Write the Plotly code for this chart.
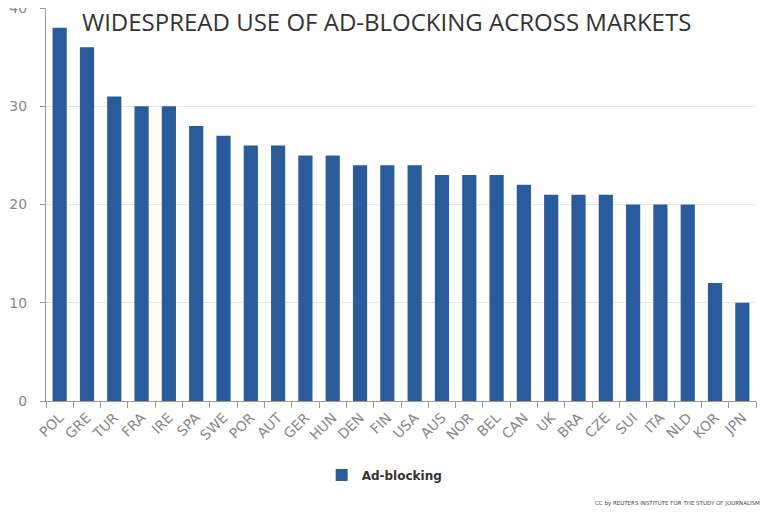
import plotly.graph_objects as go

# markets and share of users blocking ads (%)
markets = ["POL", "GRE", "TUR", "FRA", "IRE", "SPA", "SWE", "POR", "AUT", "GER",
           "HUN", "DEN", "FIN", "USA", "AUS", "NOR", "BEL", "CAN", "UK", "BRA",
           "CZE", "SUI", "ITA", "NLD", "KOR", "JPN"]
ad_blocking = [38, 36, 31, 30, 30, 28, 27, 26, 26, 25,
               25, 24, 24, 24, 23, 23, 23, 22, 21, 21,
               21, 20, 20, 20, 12, 10]
y_ticks = [0, 10, 20, 30, 40]

fig = go.Figure()
fig.add_trace(go.Bar(
    x=markets,
    y=ad_blocking,
    name="<b>Ad-blocking</b>",
    marker=dict(color="#2a5b9b", line=dict(width=0)),
))

# page body adds an 8px margin, so the figure is a bit smaller than the window
fig.update_layout(
    width=760,
    height=504,
    margin=dict(l=38, r=12, t=0, b=111),
    plot_bgcolor="white",
    paper_bgcolor="white",
    bargap=0.48,
    font=dict(family="DejaVu Sans", color="#777777"),
    showlegend=True,
    legend=dict(
        orientation="h",
        x=0.477, xanchor="center",
        y=-0.188, yanchor="middle",
        font=dict(size=12, color="#333333", family="DejaVu Sans"),
    ),
    xaxis=dict(
        automargin=False,
        tickangle=-45,
        tickfont=dict(size=14, color="#888888"),
        showline=True, linecolor="#999999",
        ticks="outside", ticklen=6, tickcolor="#999999",
        tickson="boundaries",
        ticklabelstandoff=2,
        showgrid=False,
    ),
    yaxis=dict(
        automargin=False,
        range=[0, 40],
        tickvals=y_ticks,
        tickfont=dict(size=14, color="#888888"),
        showline=True, linecolor="#999999",
        ticks="outside", ticklen=5, tickcolor="#999999",
        ticklabelstandoff=10,
        ticklabeloverflow="allow",
        gridcolor="#e6e6e6",
        zeroline=False,
    ),
)

# title sits inside the plot area
fig.add_annotation(
    text="WIDESPREAD USE OF AD-BLOCKING ACROSS MARKETS",
    xref="paper", yref="paper",
    x=0.048, y=0.966, xanchor="left", yanchor="middle",
    showarrow=False,
    font=dict(family="Open Sans", size=24, color="#333333"),
)

# credit line
fig.add_annotation(
    text="CC by REUTERS INSTITUTE FOR THE STUDY OF JOURNALISM",
    xref="paper", yref="paper",
    x=1.0, y=-0.262, xanchor="right", yanchor="middle",
    xshift=6,
    showarrow=False,
    font=dict(family="DejaVu Sans", size=5.5, color="#444444"),
)

fig.write_html("out.html")
